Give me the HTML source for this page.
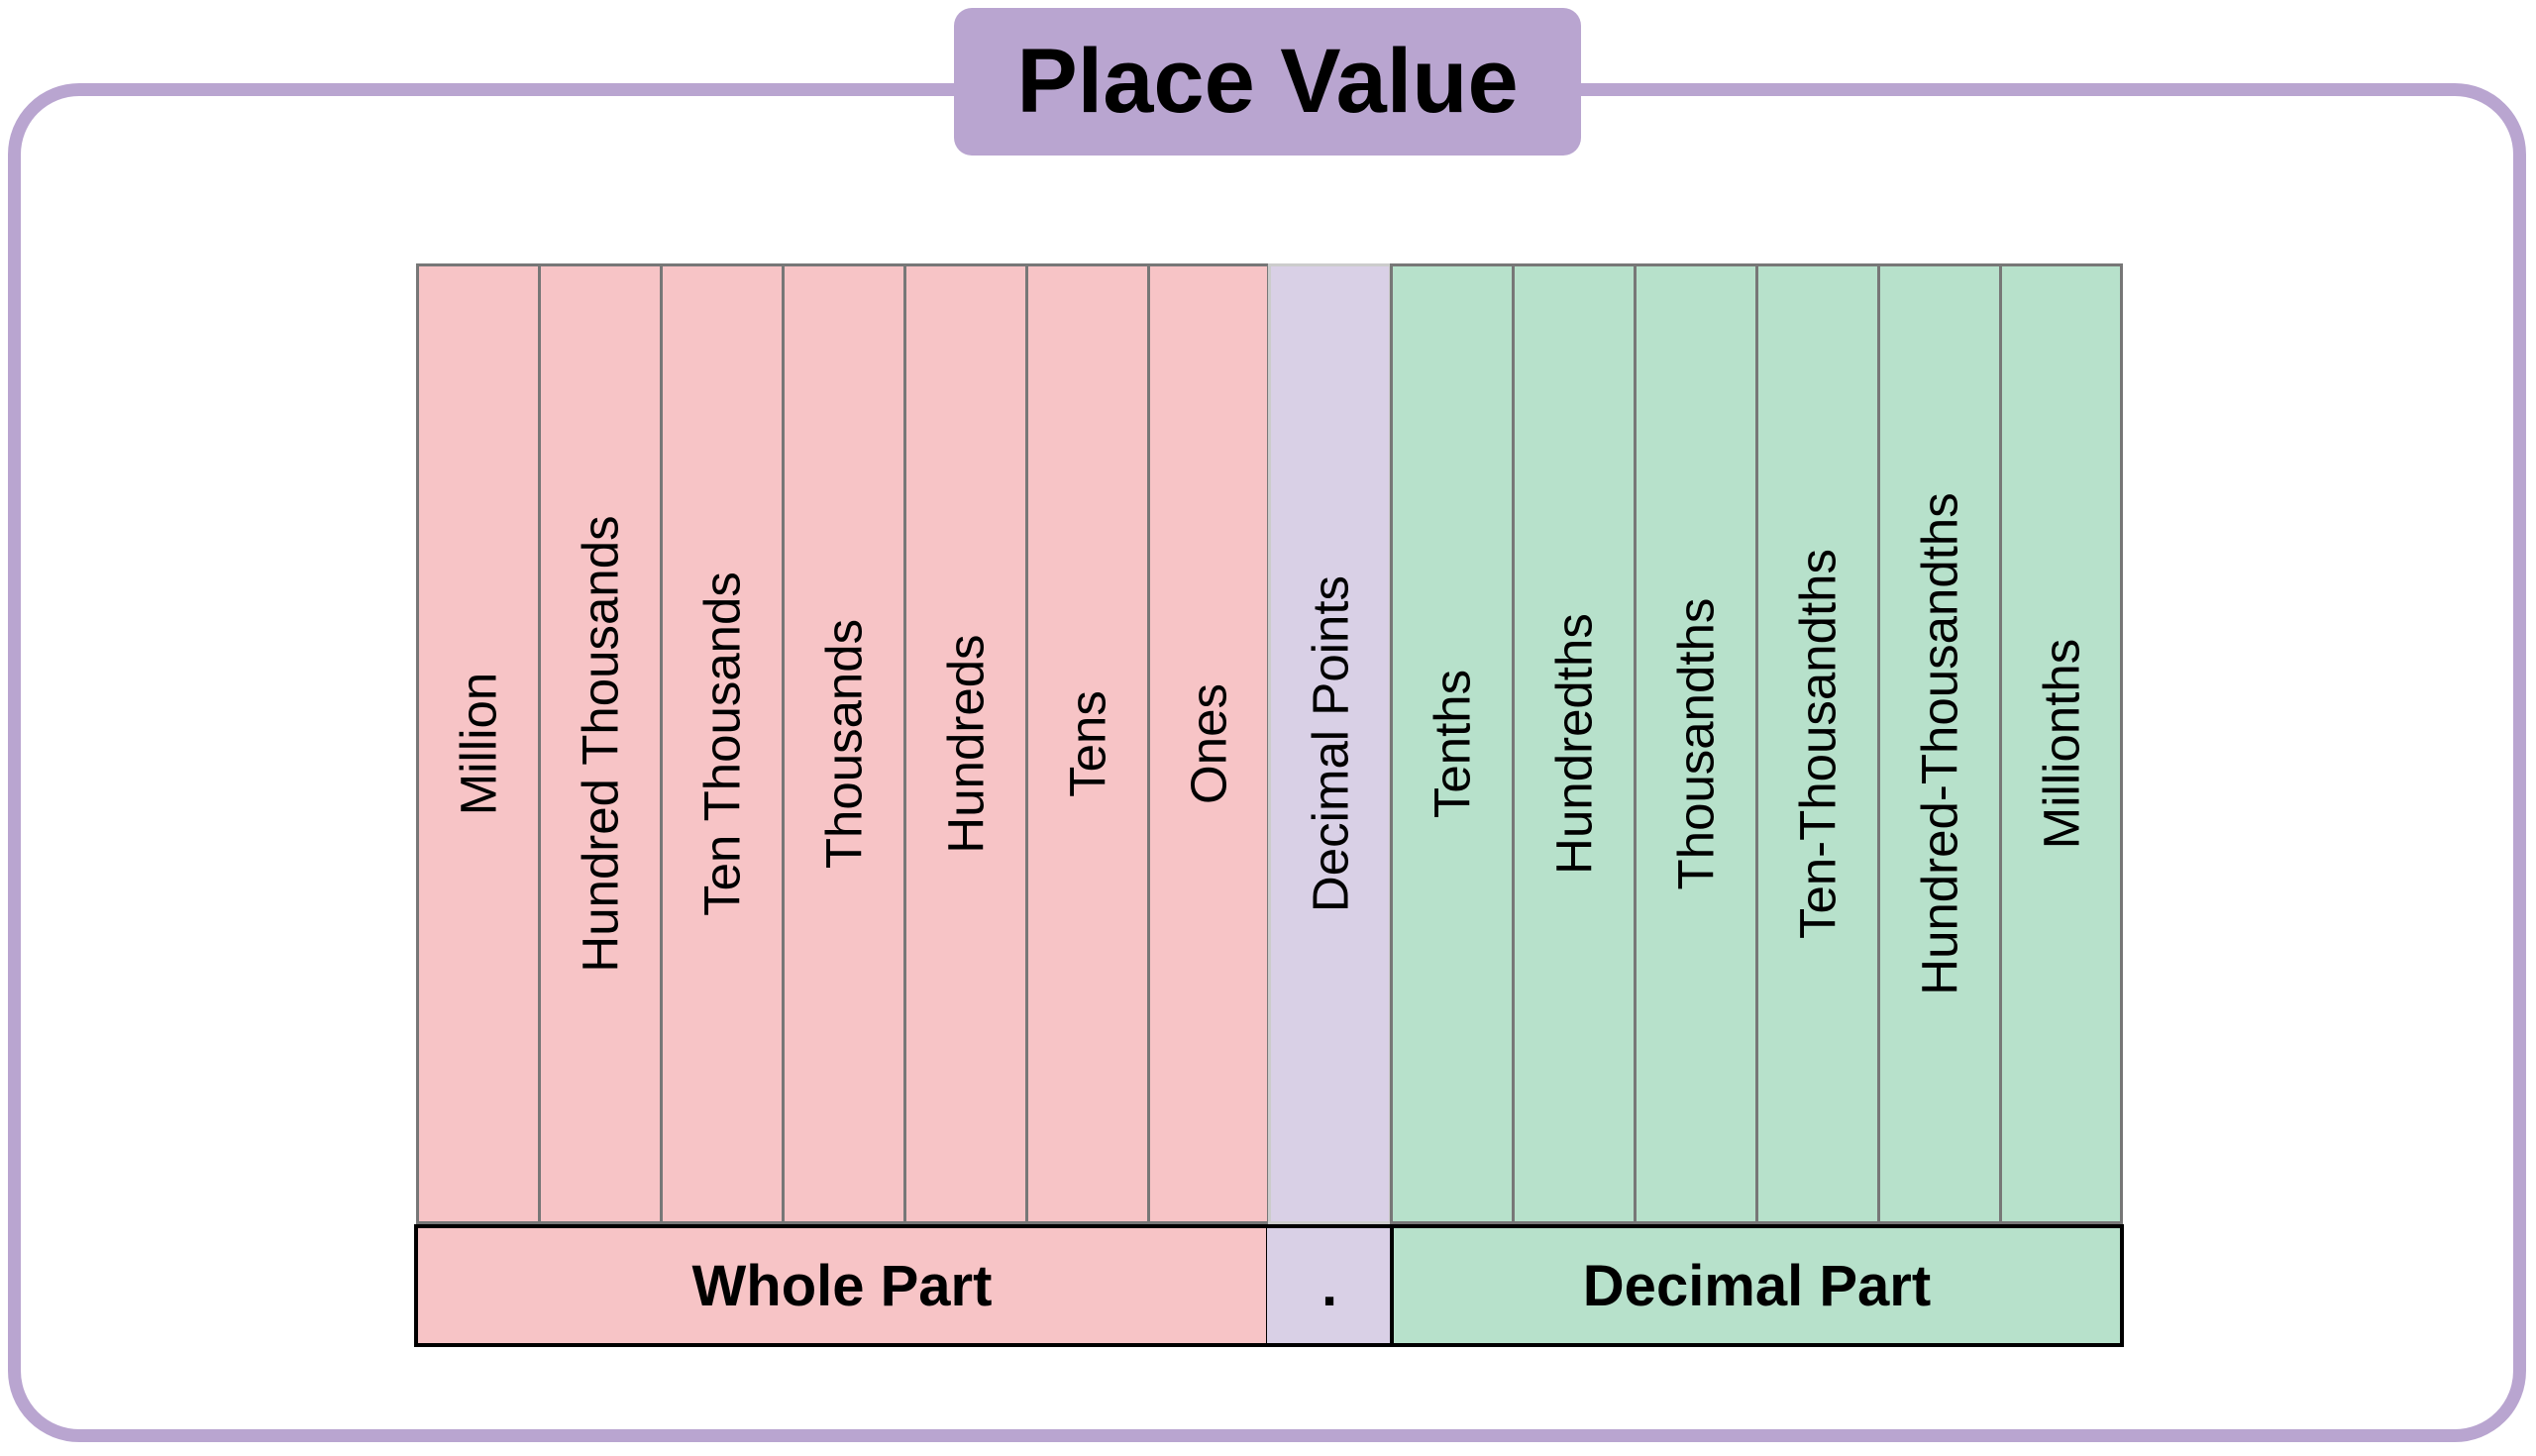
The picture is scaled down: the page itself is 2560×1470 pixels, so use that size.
<!DOCTYPE html>
<html><head><meta charset="utf-8"><style>
body{margin:0;width:2560px;height:1470px;background:#fff;position:relative;overflow:hidden;font-family:"Liberation Sans",sans-serif}
.frame{position:absolute;left:8px;top:84px;width:2542px;height:1372px;border:13px solid #b9a5d0;border-radius:72px;box-sizing:border-box}
.title{position:absolute;left:963px;top:8px;width:633px;height:149px;background:#b9a5d0;border-radius:18px;display:flex;align-items:center;justify-content:center;font-size:92px;font-weight:bold;color:#000}
.col{position:absolute;top:266px;height:970px;box-sizing:border-box;border:3px solid #777}
.col span{position:absolute;left:50%;top:482px;transform:translate(-50%,-50%) rotate(-90deg);white-space:nowrap;font-size:51px;color:#000}
.bot{position:absolute;top:1236px;height:124px;box-sizing:border-box;border:4px solid #000;display:flex;align-items:center;justify-content:center;font-size:58px;font-weight:bold}
</style></head><body>
<div class="frame"></div>
<div class="title">Place Value</div>
<div class="col" style="left:420px;width:126px;background:#f7c4c6"><span>Million</span></div>
<div class="col" style="left:543px;width:126px;background:#f7c4c6"><span>Hundred Thousands</span></div>
<div class="col" style="left:666px;width:126px;background:#f7c4c6"><span>Ten Thousands</span></div>
<div class="col" style="left:789px;width:126px;background:#f7c4c6"><span>Thousands</span></div>
<div class="col" style="left:912px;width:126px;background:#f7c4c6"><span>Hundreds</span></div>
<div class="col" style="left:1035px;width:126px;background:#f7c4c6"><span>Tens</span></div>
<div class="col" style="left:1158px;width:124px;background:#f7c4c6"><span>Ones</span></div>
<div class="col" style="left:1280px;width:125px;background:#d9d0e6;border-color:#ccc"><span>Decimal Points</span></div>
<div class="col" style="left:1403px;width:126px;background:#b7e1cb"><span>Tenths</span></div>
<div class="col" style="left:1526px;width:126px;background:#b7e1cb"><span>Hundredths</span></div>
<div class="col" style="left:1649px;width:126px;background:#b7e1cb"><span>Thousandths</span></div>
<div class="col" style="left:1772px;width:126px;background:#b7e1cb"><span>Ten-Thousandths</span></div>
<div class="col" style="left:1895px;width:126px;background:#b7e1cb"><span>Hundred-Thousandths</span></div>
<div class="col" style="left:2018px;width:125px;background:#b7e1cb"><span>Millionths</span></div>
<div class="bot" style="left:418px;width:864px;background:#f7c4c6">Whole Part</div>
<div class="bot" style="left:1279px;width:126px;background:#d9d0e6;border-left:none;border-right:none">.</div>
<div class="bot" style="left:1403px;width:741px;background:#b7e1cb">Decimal Part</div>
</body></html>
